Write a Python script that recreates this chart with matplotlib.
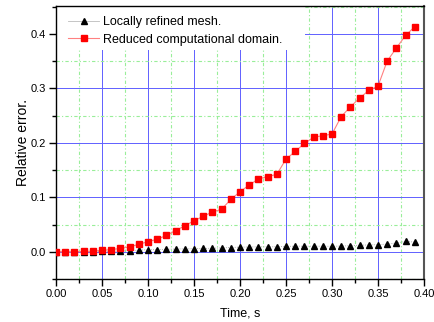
import matplotlib
matplotlib.use("Agg")
import matplotlib.pyplot as plt
from matplotlib.ticker import MultipleLocator
from matplotlib.patches import Rectangle

plt.rcParams['font.family'] = ['Liberation Sans', 'DejaVu Sans']

time = [round(0.01 * i, 2) for i in range(40)]
refined = [0.0, 0.0, 0.0, 0.0, 0.0, 0.0005, 0.0007, 0.001, 0.002, 0.003,
           0.0037, 0.004, 0.0045, 0.005, 0.0053, 0.0056, 0.006, 0.0065, 0.007, 0.0078,
           0.0085, 0.0087, 0.009, 0.009, 0.0092, 0.0098, 0.0102, 0.0102, 0.0102, 0.0102,
           0.010, 0.0105, 0.011, 0.012, 0.0125, 0.013, 0.014, 0.016, 0.019, 0.0177]
reduced = [0.0, 0.0, 0.0, 0.0005, 0.001, 0.0025, 0.004, 0.006, 0.009, 0.0136,
           0.0185, 0.023, 0.030, 0.039, 0.0475, 0.057, 0.065, 0.073, 0.078, 0.096,
           0.110, 0.1225, 0.1335, 0.138, 0.142, 0.170, 0.184, 0.199, 0.210, 0.213,
           0.216, 0.248, 0.266, 0.282, 0.296, 0.304, 0.350, 0.374, 0.397, 0.413]
xticklabels = ['0.00', '0.05', '0.10', '0.15', '0.20', '0.25', '0.30', '0.35', '0.40']
yticklabels = ['0.0', '0.1', '0.2', '0.3', '0.4']

fig = plt.figure(figsize=(4.34, 3.22), dpi=100)
ax = fig.add_axes([56/434, 1 - 279/322, (424-56)/434, (279-6)/322])

ax.set_xlim(0, 0.40)
ax.set_ylim(-0.05, 0.451)
ax.xaxis.set_minor_locator(MultipleLocator(0.025))
ax.yaxis.set_minor_locator(MultipleLocator(0.05))
ax.set_xticks([float(s) for s in xticklabels])
ax.set_xticklabels(xticklabels)
ax.set_yticks([float(s) for s in yticklabels])
ax.set_yticklabels(yticklabels)

ax.grid(which='major', color='#6060ff', lw=0.7, ls='-')
ax.grid(which='minor', color='#99ee99', lw=0.8, ls=(0, (3, 2, 1, 2)))
ax.set_axisbelow(True)

# white legend background box (covers grid like the original)
ax.add_patch(Rectangle((0, 0.839), 0.677, 0.2, transform=ax.transAxes,
                       facecolor='white', edgecolor='none', zorder=1.5))

ax.plot(time, refined, color='#999999', lw=0.6, ls=':', marker='^', ms=5,
        mfc='black', mec='black', label='Locally refined mesh.', zorder=3)
ax.plot(time, reduced, color='#ff8080', lw=0.8, marker='s', ms=4,
        mfc='red', mec='red', label='Reduced computational domain.', zorder=3)

ax.tick_params(which='both', direction='out', top=False, right=False, labelsize=8, pad=2)
ax.tick_params(which='major', length=5, width=1)
ax.tick_params(which='minor', length=3, width=1)
for s in ['left', 'bottom', 'top']:
    ax.spines[s].set_linewidth(1.0)
ax.spines['right'].set_linewidth(1.5)
ax.spines['right'].set_color('#555555')

ax.set_xlabel('Time, s', fontsize=9, labelpad=6)
ax.set_ylabel('Relative error.', fontsize=10, labelpad=1)

leg = ax.legend(loc='upper left', bbox_to_anchor=(0.0326, 0.963), fontsize=9,
                frameon=False, borderaxespad=0, borderpad=0,
                handlelength=2.5, handletextpad=0.3, labelspacing=0.45)
leg.get_lines()[0].set_color('#bbbbbb')
leg.get_lines()[0].set_linestyle('-')
leg.set_zorder(4)

fig.savefig('out.png', dpi=100)
